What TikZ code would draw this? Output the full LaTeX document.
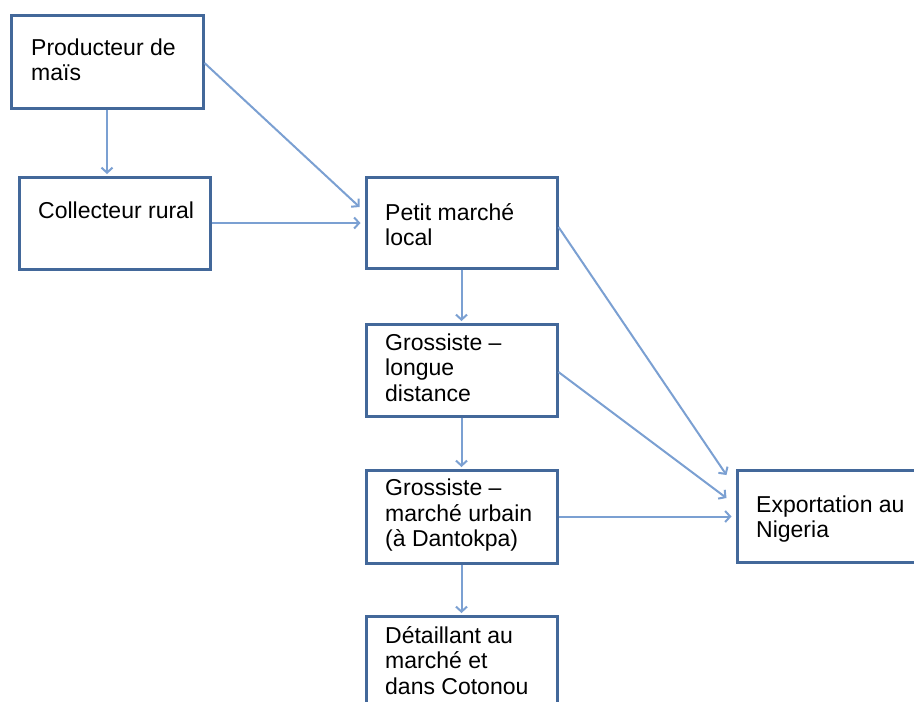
\documentclass[tikz,border=0pt]{standalone}
\usepackage{fontspec}
\setmainfont{Liberation Sans}
\usetikzlibrary{arrows.meta,calc}
\definecolor{boxblue}{HTML}{43689A}
\definecolor{arrblue}{HTML}{7BA0D2}
\begin{document}
\begin{tikzpicture}[x=1pt,y=-1pt,
  box/.style={draw=boxblue,line width=3pt,fill=white,inner sep=0pt},
  lbl/.style={anchor=base west,align=left,inner sep=0pt,font=\fontsize{23}{25.5}\selectfont},
  conn/.style={draw=arrblue,line width=2pt,-{Straight Barb[length=5pt,width=11pt]}}]
\useasboundingbox[fill=white] (0,0) rectangle (914,702);
% boxes
\node[box,minimum width=192pt,minimum height=93pt] (prod) at (107,61.5) {};
\node[box,minimum width=191pt,minimum height=92pt] (coll) at (114.5,223) {};
\node[box,minimum width=191pt,minimum height=91pt] (pm) at (461.5,222.5) {};
\node[box,minimum width=191pt,minimum height=92pt] (g1) at (461.5,370) {};
\node[box,minimum width=191pt,minimum height=93pt] (g2) at (461.5,516.5) {};
\node[box,minimum width=191pt,minimum height=110pt] (det) at (461.5,671) {};
\node[box,minimum width=210pt,minimum height=92pt] (exp) at (842,516) {};
% texts (anchor = baseline of last line)
\node[lbl] (tprod) at (31,80.5) {Producteur de\\maïs};
\node[lbl] (tcoll) at (38,218) {Collecteur rural};
\node[lbl] (tpm) at (385,245.5) {Petit marché\\local};
\node[lbl] (tg1) at (385,401) {Grossiste –\\longue\\distance};
\node[lbl] (tg2) at (385,546.5) {Grossiste –\\marché urbain\\(à Dantokpa)};
\node[lbl] (tdet) at (385,694) {Détaillant au\\marché et\\dans Cotonou};
\node[lbl] (texp) at (756,537.5) {Exportation au\\Nigeria};
% connectors
\draw[conn,shorten >=1.5pt] (prod.south) -- (prod.south |- coll.north);
\draw[conn] ([yshift=-1.5pt]prod.east) -- ([xshift=-5pt,yshift=15.5pt]pm.west);
\draw[conn,shorten >=4pt] (coll.east) -- (coll.east -| pm.west);
\draw[conn,shorten >=1.5pt] (pm.south) -- (g1.north);
\draw[conn] ([yshift=-4.5pt]pm.east) -- ([xshift=-9pt,yshift=41pt]exp.west);
\draw[conn] ([yshift=-2pt]g1.east) -- ([xshift=-9pt,yshift=18pt]exp.west);
\draw[conn,shorten >=4pt] (g2.east) -- (g2.east -| exp.west);
\draw[conn,shorten >=1.5pt] (g1.south) -- (g2.north);
\draw[conn,shorten >=1.5pt] (g2.south) -- (det.north);
\end{tikzpicture}
\end{document}
